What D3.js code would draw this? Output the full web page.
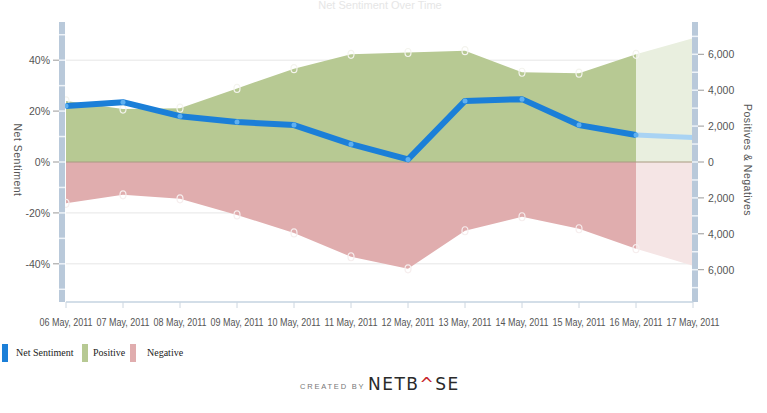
<!DOCTYPE html>
<html><head><meta charset="utf-8">
<script src="https://cdn.jsdelivr.net/npm/d3@7"></script>
<style>body{margin:0;background:#fff;}svg{display:block;}</style>
</head><body>
<svg id="c" width="767" height="413"></svg>
<script>
const dates = ["06 May, 2011","07 May, 2011","08 May, 2011","09 May, 2011","10 May, 2011","11 May, 2011","12 May, 2011","13 May, 2011","14 May, 2011","15 May, 2011","16 May, 2011","17 May, 2011"];
const netSentiment = [22, 23.5, 18, 15.7, 14.5, 7, 1, 24, 24.7, 14.5, 10.6, 9.6];
const positives = [3400, 2950, 3000, 4100, 5200, 6000, 6100, 6200, 5000, 4950, 6000, 6900];
const negatives = [2300, 1830, 2050, 2950, 3950, 5280, 5950, 3830, 3050, 3720, 4830, 5780];
const leftTicks = [40, 20, 0, -20, -40];
const rightTicks = [6000, 4000, 2000, 0, -2000, -4000, -6000];
const forecastFrom = 10; // index where the lighter projection starts

const svg = d3.select("#c");
const x = d3.scalePoint().domain(dates).range([66, 693]);
const yL = d3.scaleLinear().domain([-55, 55]).range([302, 22]);
const yR = d3.scaleLinear().domain([-7800, 7800]).range([302, 22]);

// gridlines
svg.append("g").selectAll("line").data(leftTicks.filter(d=>d!==0)).join("line")
  .attr("x1",66).attr("x2",693).attr("y1",d=>yL(d)).attr("y2",d=>yL(d))
  .attr("stroke","#e6e6e6").attr("stroke-width",1);

const idx = dates.map((d,i)=>i);
const posArea = d3.area().x(i=>x(dates[i])).y0(yR(0)).y1(i=>yR(positives[i]));
const negArea = d3.area().x(i=>x(dates[i])).y0(yR(0)).y1(i=>yR(-negatives[i]));
const main = idx.slice(0, forecastFrom+1), fut = idx.slice(forecastFrom);

svg.append("path").attr("d", posArea(fut)).attr("fill","#e9efdf");
svg.append("path").attr("d", negArea(fut)).attr("fill","#f5e5e5");
svg.append("path").attr("d", posArea(main)).attr("fill","#b7c993");
svg.append("path").attr("d", negArea(main)).attr("fill","#e0adae");

// zero line
svg.append("line").attr("x1",66).attr("x2",693).attr("y1",yR(0)).attr("y2",yR(0))
  .attr("stroke","#a89a80").attr("stroke-width",1);

// area markers
const mk = svg.append("g");
main.forEach(i=>{
  mk.append("ellipse").attr("cx",x(dates[i])).attr("cy",yR(positives[i])).attr("rx",3).attr("ry",4)
    .attr("fill","none").attr("stroke","#f4f4ee").attr("stroke-width",1.2);
  mk.append("ellipse").attr("cx",x(dates[i])).attr("cy",yR(-negatives[i])).attr("rx",3).attr("ry",4)
    .attr("fill","none").attr("stroke","#f6eeee").attr("stroke-width",1.2);
});

// net sentiment line
const line = d3.line().x(i=>x(dates[i])).y(i=>yL(netSentiment[i]));
svg.append("path").attr("d", line(fut)).attr("fill","none").attr("stroke","#a9d3f3").attr("stroke-width",5);
svg.append("path").attr("d", line(main)).attr("fill","none").attr("stroke","#1b7fd8").attr("stroke-width",6).attr("stroke-linejoin","round");
svg.append("g").selectAll("circle").data(main).join("circle")
  .attr("cx",i=>x(dates[i])).attr("cy",i=>yL(netSentiment[i])).attr("r",2.5)
  .attr("fill","#5fb0f0");

// axis bars
function axisBar(xb, scale, step, min, max){
  const g = svg.append("g");
  g.append("rect").attr("x",xb).attr("y",22).attr("width",6).attr("height",280).attr("fill","#b9c9da");
  g.selectAll("line").data(d3.range(min, max+1, step)).join("line")
    .attr("x1",xb).attr("x2",xb+6).attr("y1",d=>scale(d)).attr("y2",d=>scale(d))
    .attr("stroke","#eef3f8").attr("stroke-width",1.5);
}
axisBar(59, yL, 10, -50, 50);
axisBar(692, yR, 1000, -7000, 7000);

// left ticks & labels
const gl = svg.append("g");
gl.selectAll("line").data(leftTicks).join("line")
  .attr("x1",53).attr("x2",59).attr("y1",d=>yL(d)).attr("y2",d=>yL(d)).attr("stroke","#999");
gl.selectAll("text").data(leftTicks).join("text")
  .attr("x",50).attr("y",d=>yL(d)+4).attr("text-anchor","end")
  .attr("font-family","Arial, Liberation Sans, sans-serif").attr("font-size",10.5).attr("fill","#555")
  .text(d=>d+"%");

const gr = svg.append("g");
gr.selectAll("line").data(rightTicks).join("line")
  .attr("x1",698).attr("x2",704).attr("y1",d=>yR(d)).attr("y2",d=>yR(d)).attr("stroke","#999");
gr.selectAll("text").data(rightTicks).join("text")
  .attr("x",708).attr("y",d=>yR(d)+4).attr("text-anchor","start")
  .attr("font-family","Arial, Liberation Sans, sans-serif").attr("font-size",10.5).attr("fill","#555")
  .text(d=>d3.format(",")(Math.abs(d)));

// x axis
svg.append("line").attr("x1",66).attr("x2",693).attr("y1",302).attr("y2",302).attr("stroke","#c5d3e0").attr("stroke-width",1.5);
const gx = svg.append("g");
gx.selectAll("line").data(dates).join("line")
  .attr("x1",d=>x(d)).attr("x2",d=>x(d)).attr("y1",302).attr("y2",308).attr("stroke","#ccd6e0");
gx.selectAll("text").data(dates).join("text")
  .attr("x",d=>x(d)).attr("y",326).attr("text-anchor","middle")
  .attr("font-family","Arial, Liberation Sans, sans-serif").attr("font-size",10).attr("fill","#555")
  .attr("textLength",53).attr("lengthAdjust","spacingAndGlyphs")
  .text(d=>d);

// axis titles
svg.append("text").attr("transform","translate(14,160) rotate(90)").attr("text-anchor","middle")
  .attr("font-family","Arial, Liberation Sans, sans-serif").attr("font-size",10.5).attr("fill","#555").attr("letter-spacing",0.5)
  .text("Net Sentiment");
svg.append("text").attr("transform","translate(744,160) rotate(90)").attr("text-anchor","middle")
  .attr("font-family","Arial, Liberation Sans, sans-serif").attr("font-size",10.5).attr("fill","#555").attr("letter-spacing",0.5)
  .text("Positives & Negatives");

// title (faint)
svg.append("text").attr("x",380).attr("y",9).attr("text-anchor","middle")
  .attr("font-family","Arial, sans-serif").attr("font-size",11).attr("fill","#e6e6e6")
  .text("Net Sentiment Over Time");

// legend
const legend = [["Net Sentiment","#1b7fd8",2,16],["Positive","#b7c993",82,93],["Negative","#e0adae",130,147]];
const lg = svg.append("g");
legend.forEach(([t,c,rx,tx])=>{
  lg.append("rect").attr("x",rx).attr("y",344).attr("width",6).attr("height",18).attr("fill",c);
  lg.append("text").attr("x",tx).attr("y",356).attr("font-family","Liberation Serif, Times New Roman, serif")
    .attr("font-size",10).attr("fill","#222").text(t);
});

// credit
svg.append("text").attr("x",300).attr("y",389).attr("font-family","Arial, sans-serif").attr("font-size",7.5)
  .attr("letter-spacing",1.8).attr("fill","#777").text("CREATED BY");
const nb = svg.append("text").attr("x",368).attr("y",390).attr("font-family","DejaVu Sans, Arial, sans-serif")
  .attr("font-size",17).attr("letter-spacing",1.5).attr("fill","#2a2a2a");
nb.append("tspan").text("NETB");
nb.append("tspan").attr("fill","#c8242b").text("^");
nb.append("tspan").text("SE");
</script>
</body></html>
